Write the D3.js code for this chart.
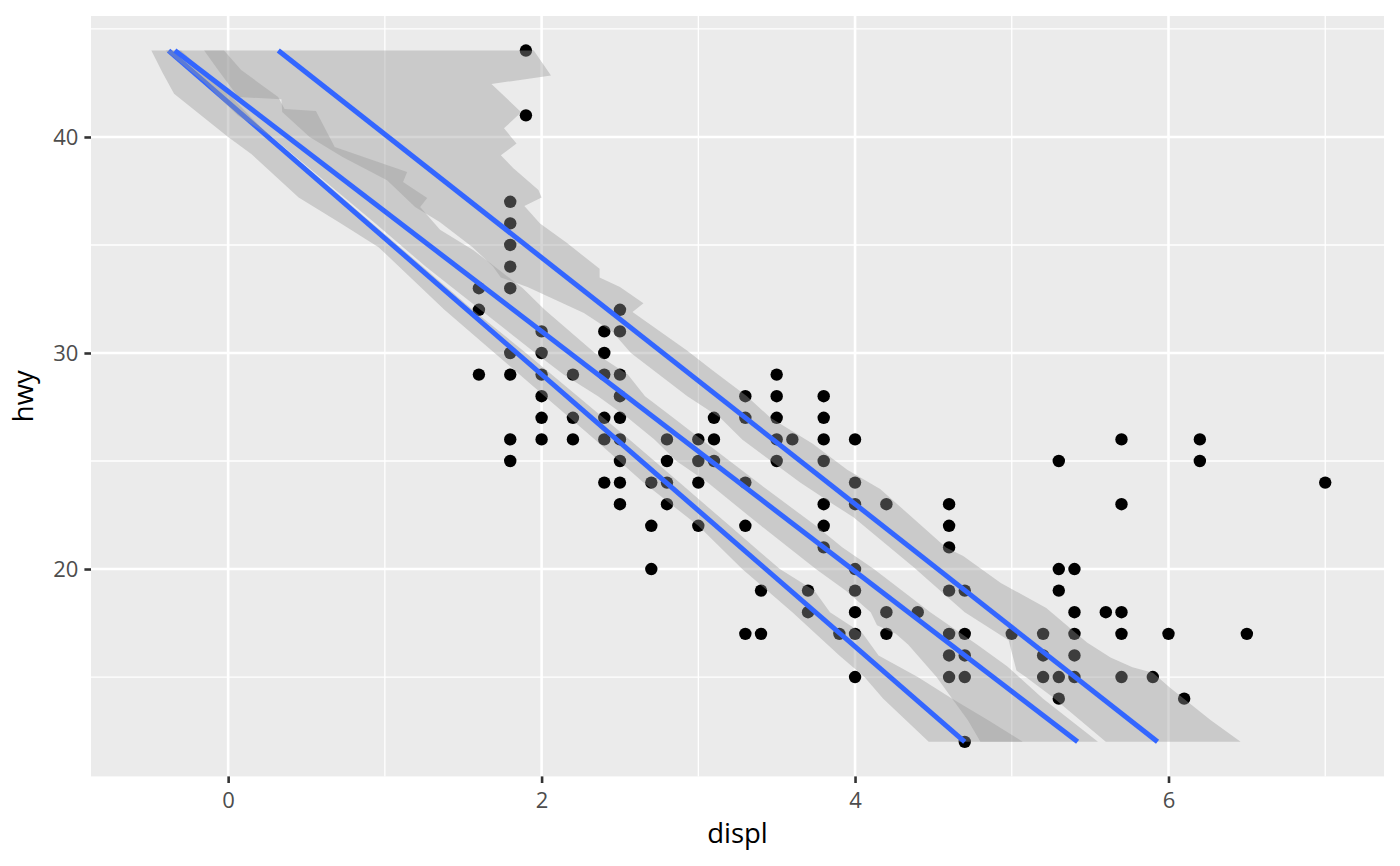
<!DOCTYPE html>
<html>
<head>
<meta charset="utf-8">
<script src="https://cdn.jsdelivr.net/npm/d3@7"></script>
<style>
  body { margin: 0; background: #fff; }
  svg { display: block; font-family: "Open Sans", "Noto Sans", sans-serif; }
</style>
</head>
<body>
<svg id="chart" width="1400" height="866"></svg>
<script>
// points (displ, hwy), one entry per distinct position
const displ = [
  1.6, 1.6, 1.6,
  1.8, 1.8, 1.8, 1.8, 1.8, 1.8, 1.8, 1.8, 1.8,
  1.9, 1.9,
  2.0, 2.0, 2.0, 2.0, 2.0, 2.0,
  2.2, 2.2, 2.2,
  2.4, 2.4, 2.4, 2.4, 2.4, 2.4,
  2.5, 2.5, 2.5, 2.5, 2.5, 2.5, 2.5, 2.5, 2.5,
  2.7, 2.7, 2.7,
  2.8, 2.8, 2.8, 2.8,
  3.0, 3.0, 3.0, 3.0,
  3.1, 3.1, 3.1,
  3.3, 3.3, 3.3, 3.3, 3.3,
  3.4, 3.4,
  3.5, 3.5, 3.5, 3.5, 3.5,
  3.6,
  3.7, 3.7,
  3.8, 3.8, 3.8, 3.8, 3.8, 3.8, 3.8,
  3.9,
  4.0, 4.0, 4.0, 4.0, 4.0, 4.0, 4.0, 4.0,
  4.2, 4.2, 4.2,
  4.4,
  4.6, 4.6, 4.6, 4.6, 4.6, 4.6, 4.6,
  4.7, 4.7, 4.7, 4.7, 4.7,
  5.0,
  5.2, 5.2, 5.2,
  5.3, 5.3, 5.3, 5.3, 5.3,
  5.4, 5.4, 5.4, 5.4, 5.4,
  5.6,
  5.7, 5.7, 5.7, 5.7, 5.7,
  5.9, 6.0, 6.1,
  6.2, 6.2,
  6.5, 7.0
];
const hwy = [
  33, 32, 29,
  37, 36, 35, 34, 33, 30, 29, 26, 25,
  44, 41,
  31, 30, 29, 28, 27, 26,
  29, 27, 26,
  31, 30, 29, 27, 26, 24,
  32, 31, 29, 28, 27, 26, 25, 24, 23,
  24, 22, 20,
  26, 25, 24, 23,
  26, 25, 24, 22,
  27, 26, 25,
  28, 27, 24, 22, 17,
  19, 17,
  29, 28, 27, 26, 25,
  26,
  19, 18,
  28, 27, 26, 25, 23, 22, 21,
  17,
  26, 24, 23, 20, 19, 18, 17, 15,
  23, 18, 17,
  18,
  23, 22, 21, 19, 17, 16, 15,
  19, 17, 16, 15, 12,
  17,
  17, 16, 15,
  25, 20, 19, 15, 14,
  20, 18, 17, 16, 15,
  18,
  26, 23, 18, 17, 15,
  15, 17, 14,
  26, 25,
  17, 24
];

// fitted lines: x at hwy = 44 and hwy = 12
const lineY = [44, 12];
const lineAx = [-0.38, 4.70];
const lineBx = [-0.34, 5.42];
const lineCx = [0.32, 5.93];

// band A (around line A)
const bandAhiY = [44, 42, 40, 38, 36, 34, 32, 30, 28, 26, 24, 22, 20, 19, 18, 17, 16, 15, 14, 13, 12];
const bandAhiX = [-0.30, 0.0, 0.27, 0.60, 0.92, 1.24, 1.56, 1.90, 2.23, 2.56, 2.88, 3.20, 3.52, 3.74, 3.84, 4.05, 4.15, 4.40, 4.62, 4.85, 5.07];
const bandAloY = [44, 43, 42, 40, 39.2, 37.2, 36, 34.9, 32, 30, 28, 26, 24, 22, 20, 18, 16, 15, 14, 12];
const bandAloX = [-0.49, -0.42, -0.345, 0.0, 0.15, 0.45, 0.72, 0.96, 1.38, 1.70, 2.02, 2.34, 2.65, 3.00, 3.28, 3.60, 3.90, 4.06, 4.18, 4.47];

// band B (around line B)
const bandBhiY = [44, 43.1, 41.85, 41.3, 41.2, 40.65, 39.54, 38.38, 37.92, 37.18, 36.76, 35.7, 34.77, 34, 33, 32, 30, 29, 28, 27, 26, 24, 22, 21, 20, 18, 16.5, 15.5, 14, 12];
const bandBhiX = [-0.026, 0.083, 0.319, 0.36, 0.56, 0.60, 0.68, 1.142, 1.116, 1.27, 1.225, 1.352, 1.563, 1.70, 1.88, 2.02, 2.34, 2.55, 2.66, 2.84, 3.02, 3.38, 3.75, 3.92, 4.12, 4.48, 4.78, 4.97, 5.20, 5.55];
const bandBloY = [44, 42.5, 41, 40, 38, 36, 34, 32, 30, 29, 28, 27, 26, 25, 24, 22, 20, 19, 18, 17.4, 17, 16.5, 15, 14, 13, 12];
const bandBloX = [-0.40, -0.15, 0.06, 0.28, 0.61, 0.94, 1.26, 1.61, 1.96, 2.14, 2.36, 2.55, 2.72, 2.86, 3.06, 3.40, 3.75, 3.94, 4.10, 4.14, 4.26, 4.34, 4.52, 4.62, 4.72, 4.80];

// band C (around line C)
const bandChiY = [44, 42.85, 42.45, 41.15, 40.4, 39.7, 39.15, 38.55, 37.55, 37.2, 36.8, 36.0, 35.1, 33.9, 33.5, 33.05, 32.3, 31.9, 30.1, 29.2, 28.0, 27.0, 25.8, 24.6, 23.7, 22.1, 21, 20.6, 19.35, 18.2, 16.6, 15.9, 15.45, 15.2, 14.5, 13.0, 12];
const bandChiX = [1.95, 2.06, 1.68, 1.87, 1.76, 1.84, 1.74, 1.82, 1.98, 2.00, 1.89, 1.99, 2.16, 2.37, 2.37, 2.50, 2.65, 2.58, 2.93, 3.09, 3.31, 3.46, 3.73, 3.95, 4.16, 4.41, 4.58, 4.69, 4.93, 5.22, 5.48, 5.63, 5.77, 5.90, 6.01, 6.27, 6.46];
const bandCloY = [44, 43.1, 41.85, 41.75, 41.16, 40.0, 39.07, 38.0, 36.76, 36.06, 34.9, 34.0, 33.5, 33.06, 31.85, 31, 30, 28, 27, 26, 24, 23, 22.4, 20.05, 19.6, 18, 16.7, 15.3, 15.0, 14.07, 12];
const bandCloX = [-0.153, -0.064, 0.064, 0.34, 0.345, 0.52, 0.73, 1.014, 1.193, 1.35, 1.56, 1.69, 1.74, 1.91, 2.27, 2.45, 2.57, 2.93, 3.14, 3.28, 3.65, 3.86, 3.99, 4.38, 4.45, 4.70, 4.98, 5.03, 5.09, 5.26, 5.60];

const xTicks = [0, 2, 4, 6];
const xMinor = [1, 3, 5, 7];
const yTicks = [20, 30, 40];
const yMinor = [15, 25, 35, 45];

const svg = d3.select("#chart");
const panel = {left: 91, right: 1384, top: 16, bottom: 776.4};

const x = d3.scaleLinear().domain([-0.875, 7.375]).range([panel.left, panel.right]);
const y = d3.scaleLinear().domain([10.4, 45.6]).range([panel.bottom, panel.top]);

svg.append("rect")
  .attr("x", panel.left)
  .attr("y", panel.top)
  .attr("width", panel.right - panel.left)
  .attr("height", panel.bottom - panel.top)
  .style("fill", "#EBEBEB");

const grid = svg.append("g");
grid.selectAll(".xminor").data(xMinor).enter().append("line")
  .attr("x1", d => x(d)).attr("x2", d => x(d))
  .attr("y1", panel.top).attr("y2", panel.bottom)
  .style("stroke", "#fff").style("stroke-width", 1.3);
grid.selectAll(".yminor").data(yMinor).enter().append("line")
  .attr("y1", d => y(d)).attr("y2", d => y(d))
  .attr("x1", panel.left).attr("x2", panel.right)
  .style("stroke", "#fff").style("stroke-width", 1.3);
grid.selectAll(".xmajor").data(xTicks).enter().append("line")
  .attr("x1", d => x(d)).attr("x2", d => x(d))
  .attr("y1", panel.top).attr("y2", panel.bottom)
  .style("stroke", "#fff").style("stroke-width", 2.6);
grid.selectAll(".ymajor").data(yTicks).enter().append("line")
  .attr("y1", d => y(d)).attr("y2", d => y(d))
  .attr("x1", panel.left).attr("x2", panel.right)
  .style("stroke", "#fff").style("stroke-width", 2.6);

// points
svg.append("g").selectAll("circle")
  .data(displ.map((d, i) => [d, hwy[i]]))
  .enter()
  .append("circle")
  .attr("cx", d => x(d[0]))
  .attr("cy", d => y(d[1]))
  .attr("r", 6.2)
  .style("fill", "#000");

// a band is the hi edge top to bottom, then the lo edge back up
function bandPath(hiY, hiX, loY, loX) {
  const pts = hiY.map((v, i) => [x(hiX[i]), y(v)]);
  for (let i = loY.length - 1; i >= 0; i--) pts.push([x(loX[i]), y(loY[i])]);
  return d3.line()(pts) + "Z";
}

const fitLine = d3.line().x(d => x(d[0])).y(d => y(d[1]));

const groups = [
  {hiY: bandAhiY, hiX: bandAhiX, loY: bandAloY, loX: bandAloX, lx: lineAx},
  {hiY: bandChiY, hiX: bandChiX, loY: bandCloY, loX: bandCloX, lx: lineCx},
  {hiY: bandBhiY, hiX: bandBhiX, loY: bandBloY, loX: bandBloX, lx: lineBx}
];

groups.forEach(g => {
  svg.append("path")
    .attr("d", bandPath(g.hiY, g.hiX, g.loY, g.loX))
    .style("fill", "#999999")
    .style("fill-opacity", 0.4);
  svg.append("path")
    .attr("d", fitLine(g.lx.map((v, i) => [v, lineY[i]])))
    .style("fill", "none")
    .style("stroke", "#3366FF")
    .style("stroke-width", 5);
});

// axes
const xAxis = svg.append("g")
  .attr("transform", `translate(0, ${panel.bottom})`)
  .call(d3.axisBottom(x).tickValues(xTicks).tickSize(6.6).tickPadding(9.4));
const yAxis = svg.append("g")
  .attr("transform", `translate(${panel.left}, 0)`)
  .call(d3.axisLeft(y).tickValues(yTicks).tickSize(6.6).tickPadding(6));

[xAxis, yAxis].forEach(a => {
  a.select(".domain").remove();
  a.selectAll(".tick line").style("stroke", "#333333").style("stroke-width", 2.6);
  a.selectAll(".tick text")
    .style("fill", "#4D4D4D")
    .style("font-size", "22px")
    .style("font-family", "'Open Sans', 'Noto Sans', sans-serif");
});

svg.append("text")
  .attr("x", (panel.left + panel.right) / 2)
  .attr("y", 843)
  .attr("text-anchor", "middle")
  .style("font-size", "27.5px")
  .style("fill", "#000")
  .text("displ");

svg.append("text")
  .attr("transform", `translate(33, ${(panel.top + panel.bottom) / 2}) rotate(-90)`)
  .attr("text-anchor", "middle")
  .style("font-size", "27.5px")
  .style("fill", "#000")
  .text("hwy");
</script>
</body>
</html>
